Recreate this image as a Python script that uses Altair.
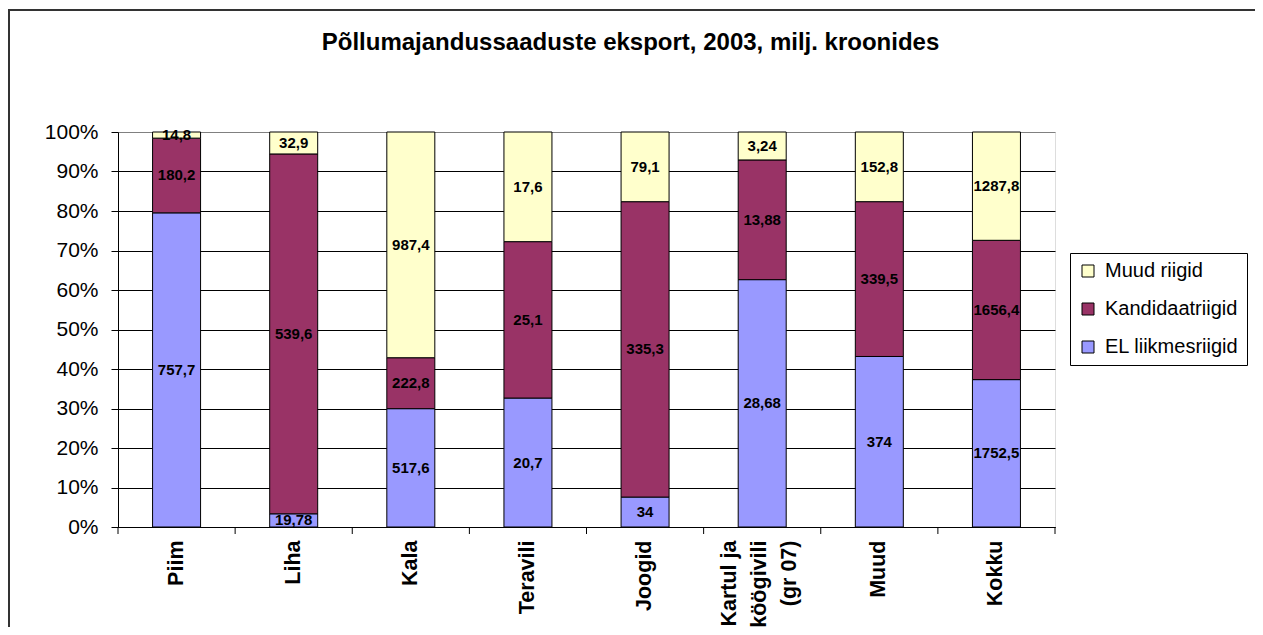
import altair as alt
import pandas as pd

categories = ["Piim", "Liha", "Kala", "Teravili", "Joogid",
              "Kartul ja köögivili (gr 07)", "Muud", "Kokku"]
series_names = ["EL liikmesriigid", "Kandidaatriigid", "Muud riigid"]
el_values = [757.7, 19.78, 517.6, 20.7, 34, 28.68, 374, 1752.5]
kand_values = [180.2, 539.6, 222.8, 25.1, 335.3, 13.88, 339.5, 1656.4]
muud_values = [14.8, 32.9, 987.4, 17.6, 79.1, 3.24, 152.8, 1287.8]
series_colors = ["#9999FF", "#993366", "#FFFFCC"]
y_ticks = [0, 0.1, 0.2, 0.3, 0.4, 0.5, 0.6, 0.7, 0.8, 0.9, 1.0]
title_text = "Põllumajandussaaduste eksport, 2003, milj. kroonides"

rows = []
for i, c in enumerate(categories):
    for k, vals in enumerate([el_values, kand_values, muud_values]):
        rows.append({"cat": c, "series": series_names[k], "ord": k, "value": vals[i]})
df = pd.DataFrame(rows)
cat_df = pd.DataFrame({"cat": categories})
frame_df = pd.DataFrame({"one": [0]})

W, H = 937, 395
FONT = "Liberation Sans"

legend_order = ["Muud riigid", "Kandidaatriigid", "EL liikmesriigid"]
legend_colors = ["#FFFFCC", "#993366", "#9999FF"]

multi = "Kartul ja köögivili (gr 07)"

x_axis = alt.Axis(
    title=None, labelAngle=270, labelAlign="right", labelBaseline="middle",
    labelFontSize=21.5, labelFontWeight="bold", labelColor="black", labelFont=FONT,
    labelPadding=13, labelLineHeight=30, labelLimit=400,
    labelExpr="datum.label == '" + multi + "' ? ['Kartul ja', 'köögivili', '(gr 07)'] : datum.label",
    labelOffset={"condition": {"test": "datum.value == '" + multi + "'", "value": -32}, "value": 0},
    ticks=False, domainColor="black", domainWidth=1, grid=False,
)
x_scale = alt.Scale(paddingInner=0, paddingOuter=0)

y_axis = alt.Axis(
    title=None, values=y_ticks, format=".0%",
    labelFontSize=21, labelColor="black", labelFont=FONT, labelPadding=13,
    tickSize=7, tickColor="black", domainColor="black",
    grid=True,
    gridColor={"condition": {"test": "datum.value >= 1", "value": "#808080"}, "value": "black"},
    gridWidth=1,
)
y_scale = alt.Scale(domain=[0, 1], nice=False)

base = (
    alt.Chart(df)
    .transform_joinaggregate(total="sum(value)", groupby=["cat"])
    .transform_calculate(share="datum.value / datum.total")
    .transform_window(cum="sum(share)", sort=[alt.SortField("ord")], groupby=["cat"], frame=[None, 0])
    .transform_calculate(
        y0="datum.cum - datum.share",
        mid="datum.cum - datum.share / 2",
        label="replace(toString(datum.value), '.', ',')",
    )
)

bars = base.mark_bar(size=48, stroke="black", strokeWidth=1).encode(
    x=alt.X("cat:N", sort=categories, scale=x_scale, axis=x_axis),
    y=alt.Y("cum:Q", scale=y_scale, axis=y_axis),
    y2="y0:Q",
    color=alt.Color(
        "series:N",
        scale=alt.Scale(domain=legend_order, range=legend_colors),
        legend=alt.Legend(
            title=None, orient="none", legendX=952, legendY=121, direction="vertical",
            symbolType="square", symbolSize=144, symbolStrokeColor="black", symbolStrokeWidth=1,
            labelFontSize=20, labelColor="black", labelFont=FONT, labelOffset=7,
            rowPadding=18, padding=8, strokeColor="black", fillColor="white",
        ),
    ),
)

texts = base.mark_text(fontSize=15, fontWeight="bold", color="black", font=FONT).encode(
    x=alt.X("cat:N", sort=categories, scale=x_scale, axis=x_axis),
    y=alt.Y("mid:Q", scale=y_scale, axis=y_axis),
    text="label:N",
)

ticks = alt.Chart(cat_df).mark_rule(color="black", strokeWidth=1).encode(
    x=alt.X("cat:N", sort=categories, bandPosition=0, scale=x_scale, axis=x_axis),
    y=alt.value(H),
    y2=alt.value(H + 7),
)
end_tick = alt.Chart(frame_df).mark_rule(color="black", strokeWidth=1).encode(
    x=alt.value(W), y=alt.value(H), y2=alt.value(H + 7)
)

border_top = alt.Chart(frame_df).mark_rule(color="#333333", strokeWidth=2).encode(
    x=alt.value(-110), x2=alt.value(W + 200), y=alt.value(-122), y2=alt.value(-122)
)
border_left = alt.Chart(frame_df).mark_rule(color="#333333", strokeWidth=2).encode(
    x=alt.value(-109), x2=alt.value(-109), y=alt.value(-122), y2=alt.value(H + 120)
)

chart = (
    alt.layer(bars, texts, ticks, end_tick, border_top, border_left)
    .properties(
        width=W, height=H,
        title=alt.TitleParams(
            title_text, fontSize=24, fontWeight="bold", font=FONT, color="black",
            anchor="middle", offset=-46, dx=44,
        ),
        autosize=alt.AutoSizeParams(type="none"),
        padding={"left": 110, "top": 124, "right": 200, "bottom": 100},
    )
    .configure_view(stroke="#808080", strokeWidth=1)
    .configure(background="white", font=FONT)
)

chart.save("out.html", embed_options={"renderer": "svg", "actions": False})
